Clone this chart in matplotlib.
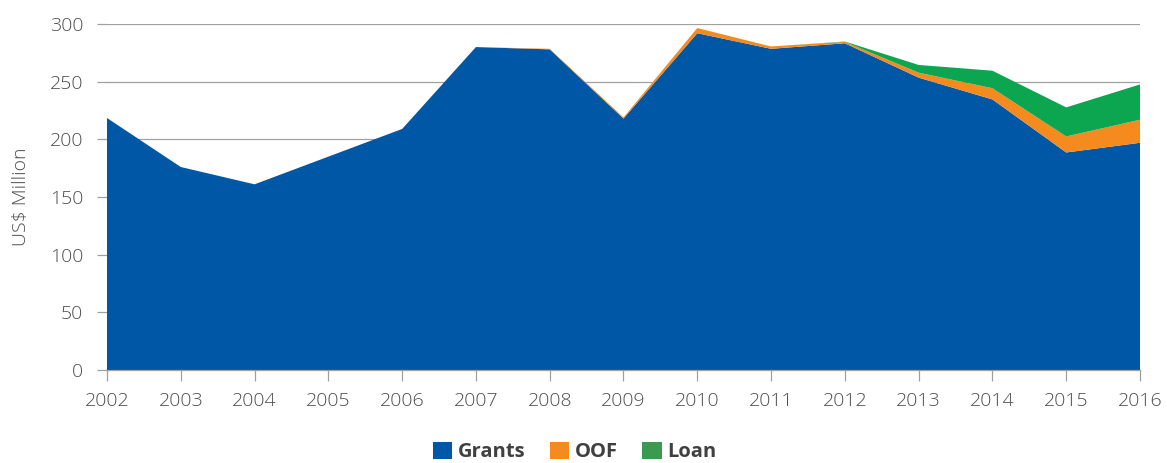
import matplotlib
matplotlib.use("Agg")
import matplotlib.pyplot as plt
from matplotlib.patches import Patch

years = [2002, 2003, 2004, 2005, 2006, 2007, 2008, 2009, 2010, 2011, 2012, 2013, 2014, 2015, 2016]
grants = [218.5, 176, 161, 185, 209, 280, 278, 218, 292, 278.5, 283.3, 253.5, 234.6, 188.6, 197]
oof = [0, 0, 0, 0, 0, 0, 0.5, 1, 4.5, 2, 1.2, 4.3, 9.7, 13.9, 20]
loan = [0, 0, 0, 0, 0, 0, 0, 0, 0, 0, 0.3, 6.7, 15.2, 25.2, 30.6]
yticks = [0, 50, 100, 150, 200, 250, 300]
series_names = ["Grants", "OOF", "Loan"]
area_colors = ["#0057A6", "#F58A1F", "#0BA64F"]
legend_colors = ["#0057A6", "#F58A1F", "#3A9A50"]

plt.rcParams['font.family'] = ['Open Sans', 'DejaVu Sans']

fig = plt.figure(figsize=(11.67, 4.63), dpi=100)
ax = fig.add_axes([107/1167, 1 - 370/463, (1140-107)/1167, (370-24)/463])

ax.stackplot(years, grants, oof, loan, colors=area_colors, linewidth=0, zorder=3)

ax.set_xlim(2002, 2016)
ax.set_ylim(0, 300)
ax.set_xticks(years)
ax.set_yticks(yticks)
ax.set_xticklabels([str(y) for y in years])
ax.grid(axis='y', color='#A0A0A0', linewidth=0.9, zorder=0)
ax.set_axisbelow(True)
for s in ['top', 'right', 'left']:
    ax.spines[s].set_visible(False)
ax.spines['bottom'].set_color('#A0A0A0')
ax.spines['bottom'].set_linewidth(0.9)
ax.spines['bottom'].set_zorder(4)
ax.tick_params(axis='x', colors='#A0A0A0', length=8, width=0.9, labelcolor='#4D4D4D',
               labelsize=14, pad=8)
ax.tick_params(axis='y', colors='#A0A0A0', length=7, width=0.9, labelcolor='#4D4D4D',
               labelsize=14, pad=10)
for lab in ax.get_xticklabels() + ax.get_yticklabels():
    lab.set_fontweight('light')
ax.set_ylabel("US$ Million", fontsize=14, color='#4D4D4D', fontweight='light', labelpad=14)

handles = [Patch(facecolor=c, edgecolor='none') for c in legend_colors]
leg = fig.legend(handles, series_names, loc='center', bbox_to_anchor=(575/1167, 1 - 452/463),
                 ncol=3, frameon=False, handlelength=0.95, handleheight=0.95,
                 handletextpad=0.3, columnspacing=1.2,
                 prop={'size': 14.5, 'weight': 'bold'})
for t in leg.get_texts():
    t.set_color('#404040')

fig.savefig("out.png", dpi=100)
